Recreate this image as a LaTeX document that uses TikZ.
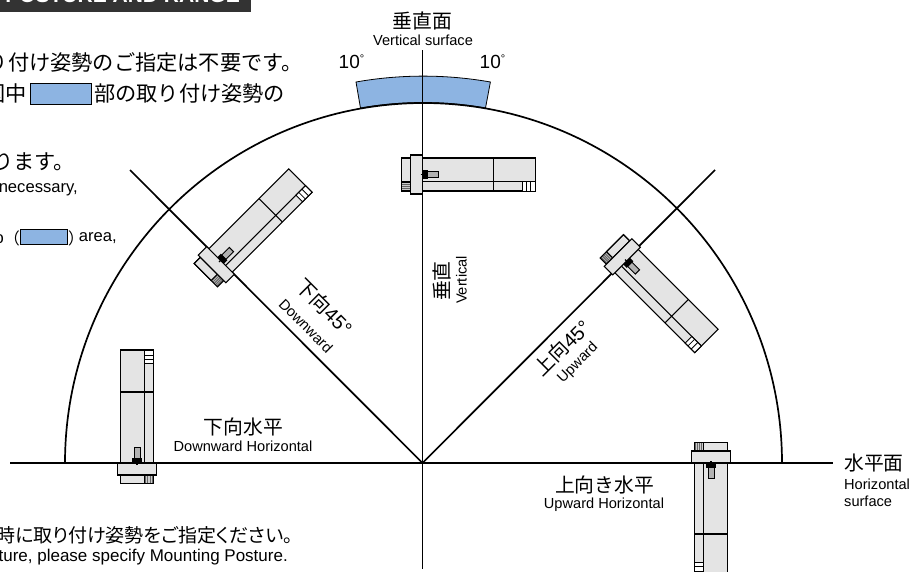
\documentclass[tikz,border=0pt]{standalone}
\usepackage{fontspec}
\setmainfont{Liberation Sans}
\newfontfamily\jp{Noto Sans CJK JP}
\newfontfamily\jpp[RawFeature=+palt]{Noto Sans CJK JP}
\definecolor{bandblue}{HTML}{8DB4E2}
\definecolor{bodygrey}{HTML}{E4E4E4}
\definecolor{banner}{HTML}{333333}
\tikzset{
  x=1pt,y=-1pt,
  axis/.style={line width=1.7pt,black},
  thin part/.style={line width=1.05pt,draw=black,fill=bodygrey},
  jtext/.style={inner sep=0pt,font=\jp\fontsize{19.8}{20}\selectfont},
  jlead/.style={inner sep=0pt,font=\jp\fontsize{21.2}{22}\selectfont},
  etext/.style={inner sep=0pt,font=\fontsize{14.6}{15}\selectfont},
  elead/.style={inner sep=0pt,font=\fontsize{16.6}{17}\selectfont},
  swatch/.style={rectangle,draw=black,fill=bandblue,line width=.9pt,inner sep=0pt},
  mount/.pic={
    \fill[black!60] (-20.8,7.5) rectangle (-12,16.5);
    \draw[thin part] (-20.8,-16.5) rectangle (-12,7.5);
    \foreach \k in {9,10.8,...,16}{\draw[black!20,line width=.45pt] (-20.8,\k) -- (-12,\k);}
    \draw[line width=1.05pt] (-20.8,-16.5) rectangle (-12,16.5);
    \draw[thin part] (0,-16.5) rectangle (113,16.5);
    \draw[line width=1.05pt] (0,7.2) -- (113,7.2) (71,-16.5) -- (71,16.5);
    \draw[line width=1pt,fill=white] (99.5,7.2) rectangle (113,16.5);
    \draw[line width=0.8pt] (103.5,7.2) -- (103.5,16.5) (108,7.2) -- (108,16.5);
    \draw[thin part] (-12,-19.5) rectangle (0,19.5);
    \draw[line width=1pt,fill=black!30] (4.5,-3) rectangle (15.5,3);
    \fill[black] (0,-4.6) rectangle (5,4.6);
    \draw[line width=1.1pt] (-2,0) -- (1,0);
  }
}
\begin{document}
\begin{tikzpicture}
\useasboundingbox (0,0) rectangle (911,571);
\clip (0,0) rectangle (911,571);
\coordinate (O) at (422.5,463);
% banner
\fill[banner] (0,0) rectangle (251,12);
\node[anchor=base east,inner sep=0pt,text=white,font=\bfseries\fontsize{21}{21}\selectfont] (ban) at (240,2.5) {POSTURE AND RANGE};
% blue band
\fill[bandblue,draw=black,line width=.8pt] (356,82) arc[start angle=260,end angle=280,radius=387] -- (485.5,108) arc[start angle=280,end angle=260,radius=360] -- cycle;
% arc and axes
\coordinate (L) at (10,463); \coordinate (R) at (833,463);
\coordinate (T) at (422.5,50); \coordinate (B) at (422.5,569);
\coordinate (DL) at (130,170); \coordinate (DR) at (715,170);
\draw[axis] (L) -- (R);
\draw[axis] (T) -- (B);
\draw[axis] (DL) -- (O) -- (DR);
\draw[axis] (65,463) arc[start angle=180,end angle=360,x radius=358.5,y radius=360];
% devices
\pic[rotate=0] at (422.5,174.5) {mount};
\pic[rotate=-45] at (626.5,261) {mount};
\pic[rotate=-90] at (711,463) {mount};
\pic[rotate=45] at (220.5,260.5) {mount};
\pic[rotate=90] at (137,463) {mount};
% labels
\node[jtext] (vs) at (422.5,21) {垂直面};
\node[etext] (vse) at (423,40) {Vertical surface};
\node[inner sep=0pt,font=\fontsize{19}{19}\selectfont] (t1) at (351.5,62) {10\raisebox{6pt}{\fontsize{11}{11}\selectfont °}};
\node[inner sep=0pt,font=\fontsize{19}{19}\selectfont] (t2) at (492.5,62) {10\raisebox{6pt}{\fontsize{11}{11}\selectfont °}};
\node[jtext,rotate=90] (v) at (441.5,281) {垂直};
\node[etext,rotate=90] (ve) at (461.5,280) {Vertical};
\node[jtext,rotate=-45] (d) at (324.5,307) {下向{\rmfamily 45°}};
\node[etext,rotate=-45] (de) at (306,326) {Downward};
\node[jtext,rotate=45] (u) at (562,348) {上向{\rmfamily 45°}};
\node[etext,rotate=45] (ue) at (578,363) {Upward};
\node[jtext] (dh) at (243.5,427) {下向水平};
\node[etext] (dhe) at (243,446) {Downward Horizontal};
\node[jtext] (uh) at (604.5,485) {上向き水平};
\node[etext] (uhe) at (604,505) {Upward Horizontal};
\node[jtext,anchor=west] (hs) at (844,463) {水平面};
\node[etext,anchor=west] (hse) at (844,484) {Horizontal};
\node[etext,anchor=west] (hse2) at (844,501) {surface};
% left text
\node[jlead,anchor=east] (a1) at (303,62) {り付け姿勢のご指定は不要です。};
\node[jlead,anchor=east] (a2) at (27,93) {図中};
\node[swatch,minimum width=60.5pt,minimum height=21pt] (sw1) at (61,94) {};
\node[jlead,anchor=west] (a3) at (94,93) {部の取り付け姿勢の};
\node[jlead,anchor=east] (a4) at (75,162) {ります。};
\node[elead,anchor=east] (a5) at (78,190) {necessary,};
\node[elead,anchor=east] (a6) at (4,238) {to};
\node[inner sep=0pt,font=\jp\fontsize{16}{16}\selectfont,anchor=east] (a7) at (20,238) {（};
\node[swatch,minimum width=47pt,minimum height=15.5pt] (sw2) at (44.2,237) {};
\node[inner sep=0pt,font=\jp\fontsize{16}{16}\selectfont,anchor=west] (a8) at (68,238) {）};
\node[elead,anchor=east] (a8b) at (117,238) {area,};
\node[inner sep=0pt,font=\jpp\fontsize{19}{20}\selectfont,anchor=east] (a9) at (293,535) {時に取り付け姿勢をご指定ください。};
\node[inner sep=0pt,font=\fontsize{17}{17}\selectfont,anchor=east] (a10) at (288,557) {ture, please specify Mounting Posture.};
\end{tikzpicture}
\end{document}
